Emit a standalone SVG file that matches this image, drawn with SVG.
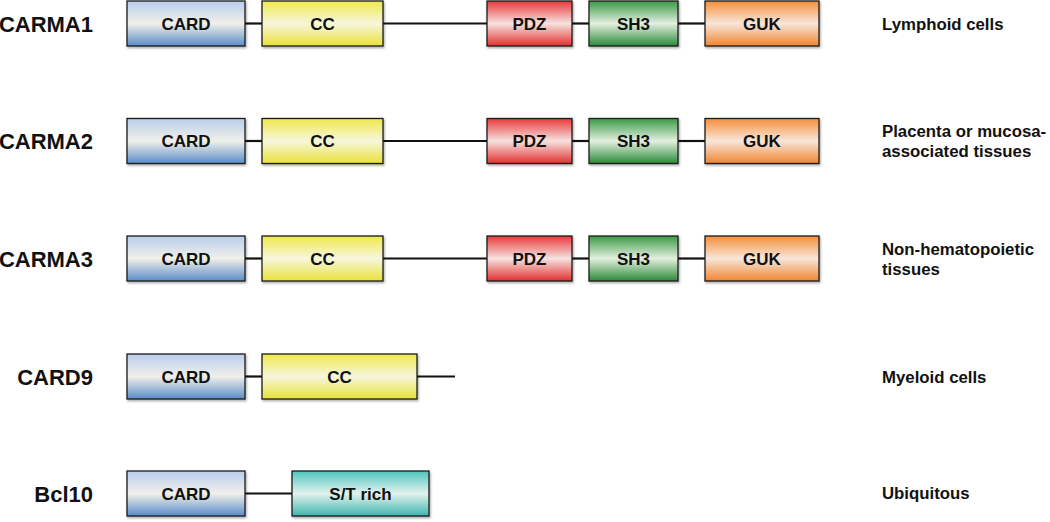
<svg xmlns="http://www.w3.org/2000/svg" width="1050" height="522" viewBox="0 0 1050 522">
<defs>
<linearGradient id="gCard" x1="0" y1="0" x2="0" y2="1"><stop offset="0" stop-color="#b9cdec"/><stop offset="0.5" stop-color="#f1f0ea"/><stop offset="1" stop-color="#5a8cc8"/></linearGradient>
<linearGradient id="gCC" x1="0" y1="0" x2="0" y2="1"><stop offset="0" stop-color="#efe94a"/><stop offset="0.5" stop-color="#f7f6dc"/><stop offset="1" stop-color="#e9e23a"/></linearGradient>
<linearGradient id="gPDZ" x1="0" y1="0" x2="0" y2="1"><stop offset="0" stop-color="#e8393a"/><stop offset="0.5" stop-color="#f6e2df"/><stop offset="1" stop-color="#e2302f"/></linearGradient>
<linearGradient id="gSH3" x1="0" y1="0" x2="0" y2="1"><stop offset="0" stop-color="#3a9a45"/><stop offset="0.5" stop-color="#e4efe0"/><stop offset="1" stop-color="#2a8a38"/></linearGradient>
<linearGradient id="gGUK" x1="0" y1="0" x2="0" y2="1"><stop offset="0" stop-color="#f58f3a"/><stop offset="0.5" stop-color="#f8e6da"/><stop offset="1" stop-color="#f08530"/></linearGradient>
<linearGradient id="gST" x1="0" y1="0" x2="0" y2="1"><stop offset="0" stop-color="#4fc6bf"/><stop offset="0.5" stop-color="#e2f2ee"/><stop offset="1" stop-color="#3fb6ae"/></linearGradient>
<filter id="sh" x="-10%" y="-10%" width="120%" height="130%"><feDropShadow dx="1" dy="1.5" stdDeviation="1" flood-color="#000" flood-opacity="0.35"/></filter>
</defs>
<style>
.box{stroke:#1a1a1a;stroke-width:1.3;filter:url(#sh)}
.ln{stroke:#111;stroke-width:2.2;fill:none}
.bl{font-family:"Liberation Sans",Arial,sans-serif;font-weight:bold;font-size:17px;text-anchor:middle;fill:#111}
.nm{font-family:"Liberation Sans",Arial,sans-serif;font-weight:bold;font-size:22px;text-anchor:end;fill:#111}
.ds{font-family:"Liberation Sans",Arial,sans-serif;font-weight:bold;font-size:16.8px;fill:#111}
</style>
<g id="connectors">
<line class="ln" x1="245" y1="23.5" x2="262" y2="23.5"/>
<line class="ln" x1="383" y1="23.5" x2="487" y2="23.5"/>
<line class="ln" x1="572" y1="23.5" x2="589" y2="23.5"/>
<line class="ln" x1="678" y1="23.5" x2="705" y2="23.5"/>
<line class="ln" x1="245" y1="141" x2="262" y2="141"/>
<line class="ln" x1="383" y1="141" x2="487" y2="141"/>
<line class="ln" x1="572" y1="141" x2="589" y2="141"/>
<line class="ln" x1="678" y1="141" x2="705" y2="141"/>
<line class="ln" x1="245" y1="258.5" x2="262" y2="258.5"/>
<line class="ln" x1="383" y1="258.5" x2="487" y2="258.5"/>
<line class="ln" x1="572" y1="258.5" x2="589" y2="258.5"/>
<line class="ln" x1="678" y1="258.5" x2="705" y2="258.5"/>
<line class="ln" x1="245" y1="376.5" x2="262" y2="376.5"/>
<line class="ln" x1="417" y1="376.5" x2="455" y2="376.5"/>
<line class="ln" x1="245" y1="493.5" x2="292" y2="493.5"/>
</g>
<g id="carma1">
<text class="nm" x="93" y="32">CARMA1</text>
<rect class="box" x="127" y="1" width="118" height="45" fill="url(#gCard)"/><text class="bl" x="186" y="29.5">CARD</text>
<rect class="box" x="262" y="1" width="121" height="45" fill="url(#gCC)"/><text class="bl" x="322.5" y="29.5">CC</text>
<rect class="box" x="487" y="1" width="85" height="45" fill="url(#gPDZ)"/><text class="bl" x="529.5" y="29.5">PDZ</text>
<rect class="box" x="589" y="1" width="89" height="45" fill="url(#gSH3)"/><text class="bl" x="633.5" y="29.5">SH3</text>
<rect class="box" x="705" y="1" width="114" height="45" fill="url(#gGUK)"/><text class="bl" x="762" y="29.5">GUK</text>
<text class="ds" x="882" y="30">Lymphoid cells</text>
</g>
<g id="carma2">
<text class="nm" x="93" y="149">CARMA2</text>
<rect class="box" x="127" y="118.5" width="118" height="45" fill="url(#gCard)"/><text class="bl" x="186" y="147">CARD</text>
<rect class="box" x="262" y="118.5" width="121" height="45" fill="url(#gCC)"/><text class="bl" x="322.5" y="147">CC</text>
<rect class="box" x="487" y="118.5" width="85" height="45" fill="url(#gPDZ)"/><text class="bl" x="529.5" y="147">PDZ</text>
<rect class="box" x="589" y="118.5" width="89" height="45" fill="url(#gSH3)"/><text class="bl" x="633.5" y="147">SH3</text>
<rect class="box" x="705" y="118.5" width="114" height="45" fill="url(#gGUK)"/><text class="bl" x="762" y="147">GUK</text>
<text class="ds" x="882" y="137">Placenta or mucosa-</text>
<text class="ds" x="882" y="157">associated tissues</text>
</g>
<g id="carma3">
<text class="nm" x="93" y="267">CARMA3</text>
<rect class="box" x="127" y="236" width="118" height="45" fill="url(#gCard)"/><text class="bl" x="186" y="264.5">CARD</text>
<rect class="box" x="262" y="236" width="121" height="45" fill="url(#gCC)"/><text class="bl" x="322.5" y="264.5">CC</text>
<rect class="box" x="487" y="236" width="85" height="45" fill="url(#gPDZ)"/><text class="bl" x="529.5" y="264.5">PDZ</text>
<rect class="box" x="589" y="236" width="89" height="45" fill="url(#gSH3)"/><text class="bl" x="633.5" y="264.5">SH3</text>
<rect class="box" x="705" y="236" width="114" height="45" fill="url(#gGUK)"/><text class="bl" x="762" y="264.5">GUK</text>
<text class="ds" x="882" y="254.5">Non-hematopoietic</text>
<text class="ds" x="882" y="274.5">tissues</text>
</g>
<g id="card9">
<text class="nm" x="93" y="384.5">CARD9</text>
<rect class="box" x="127" y="354" width="118" height="45" fill="url(#gCard)"/><text class="bl" x="186" y="382.5">CARD</text>
<rect class="box" x="262" y="354" width="155" height="45" fill="url(#gCC)"/><text class="bl" x="339.5" y="382.5">CC</text>
<text class="ds" x="882" y="383">Myeloid cells</text>
</g>
<g id="bcl10">
<text class="nm" x="93" y="502">Bcl10</text>
<rect class="box" x="127" y="471" width="118" height="45" fill="url(#gCard)"/><text class="bl" x="186" y="499.5">CARD</text>
<rect class="box" x="292" y="471" width="137" height="45" fill="url(#gST)"/><text class="bl" x="360.5" y="499.5">S/T rich</text>
<text class="ds" x="882" y="499">Ubiquitous</text>
</g>
</svg>
